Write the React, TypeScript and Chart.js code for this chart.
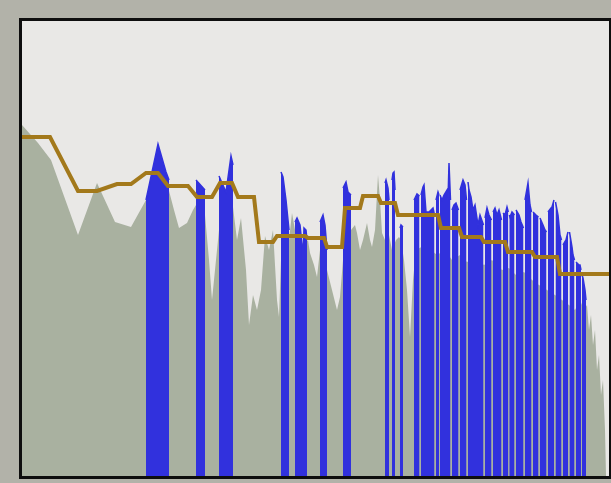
import React, { useEffect, useRef } from "react";
import { Chart, registerables } from "chart.js";

Chart.register(...registerables);

// x: sample position (0..587), y: level (0..113.75)
const grayX = [0,16,29,56,75,93,109,124,133,146,152,157,165,171,174,183,187,190,194,197,204,211,215,219,224,227,231,235,239,243,247,251,255,257,259,263,267,270,273,278,282,286,288,292,295,298,301,305,310,315,318,321,325,329,333,335,338,341,345,348,350,353,356,358,360,363,367,370,374,377,379,382,385,388,391,394,403,415,423,430,438,445,453,462,470,480,487,494,502,510,517,525,533,540,547,553,558,562,565,567,569,571,573,575,577,579,581,583,584];
const grayY = [87.75,83.25,79,60.25,73.25,63.5,62.25,69,71.5,72.25,66.5,62,63.25,66.5,67.75,65.25,54,44,54,61.5,64,67.25,59,64.5,51.5,37.75,45.25,41.5,46.5,60,56.5,61.5,44,39.75,54,56.5,59,65.75,61.5,59,57.75,59,55.75,52.75,49.75,56.5,54,51.5,46.5,41.5,44.75,54,59,61.5,62.75,60.75,56.5,59,63.25,59,57.25,61.5,75.25,69,60.75,59,60.25,56.5,59,59.75,59,54,46.5,34.75,49,56.5,57.75,55.25,56.5,54,55.25,53.5,54.5,52.75,54,51.5,52,50.25,51,49,47.75,46.5,45.25,44,42.75,41.5,44,41.5,42.75,36.5,40.25,32.75,36.5,26.5,30.25,20.25,24,11.5,0];

const blueX = [
  124,136,144,147,160,
  174,183,190,
  197,200,204,209,211,240,
  259,261,264,267,270,
  273,275,278,280,281,282,284,285,290,
  298,301,303,305,312,
  321,324,326,329,345,
  363,364,366,367,368.5,
  370,371,372,373,375,
  378,379,381,386,
  392,393,395,397.5,398.2,
  399,401,402,404,407,409,411,412.5,413.2,
  414,416,417,417.5,
  418,420,422,425,426,427,428.5,429.2,
  430,432,434,436.5,437.2,
  438,441,443,444.5,445.2,
  446,447,449,451,453,456,458,461.5,462.2,
  463,465,467,469.5,470.2,
  471,473,475,477,479.5,480.2,
  481,483,485,486.3,486.8,
  487.3,488,490,492.5,493.2,
  494,497,499,501.5,502.2,
  503,506,508,509.5,510.2,
  511,514,516.5,517.2,
  518,521,523,524.5,525.2,
  526,529,530,532,532.7,
  533.5,536,538,539.5,540.2,
  541,544,546,546.7,
  547.5,550,551,552.5,553.2,
  554,557,558,559,559.5,
  560,561,563,564,
];
const blueY = [
  69,83,76,74,null,
  74,71.5,null,
  75,73.25,71,80,77.75,null,
  76,74.75,69,61.5,null,
  63.5,64.5,62.75,57.75,54,62,61.5,59,null,
  63.5,65.25,62.75,56.5,null,
  72,73.5,71,70.25,null,
  73.25,74,72,69,null,
  74,75.75,76,71.5,null,
  62,62.75,62.25,null,
  69,69.5,70.5,70,null,
  70.25,72.25,72.75,66,66,66.5,67,65.25,null,
  69,71,70.25,null,
  70.25,69,70.25,71.5,69,78.25,69,null,
  66.5,67.75,68.25,66.5,null,
  71.5,74,72.75,69,null,
  73.5,71.5,69.75,66.5,67.75,62.75,65.25,62.75,null,
  64.5,67,65.25,64,null,
  66,67,65.25,66.5,64,null,
  65.75,65.25,67.25,66,null,
  65.25,64.75,66,65.25,null,
  66.5,65.25,63.5,62,null,
  69,73.25,67.75,66,null,
  66,65.25,64.75,null,
  64.5,62.75,61.5,61,null,
  66,67,67.25,69,null,
  68.5,65.25,60.25,59,null,
  57.75,59,61,null,
  61,57.25,55.25,54,null,
  53.5,52.75,52.75,51.5,null,
  50.25,49.5,46.5,44,
];

const goldX = [0,28,56,75,95,109,124,136,146,166,175,190,198,210,216,232,237,251,255,283,286,302,305,320,323,338,341,356,359,373,376,416,419,437,440,459,462,483,486,510,513,535,538,588];
const goldY = [84.75,84.75,71.25,71.25,73,73,75.75,75.75,72.5,72.5,69.75,69.75,73.25,73.25,69.75,69.75,58.5,58.5,60,60,59.5,59.5,57.25,57.25,67,67,70,70,68.25,68.25,65.25,65.25,62,62,59.75,59.75,58.5,58.5,56,56,54.75,54.75,50.5,50.5];

const pts = (xs: number[], ys: (number | null)[]) => xs.map((x, i) => ({ x, y: ys[i] }));

const frame = {
  id: "frame",
  beforeDraw(chart: any) {
    const { ctx, chartArea: a } = chart;
    ctx.save();
    ctx.fillStyle = "#b2b2a9";
    ctx.fillRect(0, 0, chart.width, chart.height);
    ctx.fillStyle = "#e9e8e6";
    ctx.fillRect(a.left, a.top, a.right - a.left, a.bottom - a.top);
    ctx.restore();
  },
  afterDraw(chart: any) {
    const { ctx, chartArea: a } = chart;
    ctx.save();
    ctx.strokeStyle = "#0e0e0e";
    ctx.lineWidth = 3;
    ctx.strokeRect(a.left - 1.5, a.top - 1.5, a.right - a.left + 3, a.bottom - a.top + 3);
    ctx.restore();
  },
};

export default function App() {
  const ref = useRef<HTMLCanvasElement | null>(null);
  useEffect(() => {
    if (!ref.current) return;
    const chart = new Chart(ref.current, {
      type: "line",
      data: {
        datasets: [
          {
            label: "gold",
            data: pts(goldX, goldY),
            borderColor: "#a3791b",
            borderWidth: 4,
            pointRadius: 0,
            fill: false,
            order: 0,
          },
          {
            label: "blue",
            data: pts(blueX, blueY),
            borderColor: "#3131dd",
            backgroundColor: "#3131dd",
            borderWidth: 1.5,
            pointRadius: 0,
            fill: "origin",
            spanGaps: false,
            order: 1,
          },
          {
            label: "gray",
            data: pts(grayX, grayY),
            borderColor: "rgba(0,0,0,0)",
            backgroundColor: "#a9b1a0",
            borderWidth: 0,
            pointRadius: 0,
            fill: "origin",
            order: 2,
          },
        ],
      },
      options: {
        animation: false,
        responsive: false,
        events: [],
        layout: { padding: { left: 22, top: 21, right: 2, bottom: 7 } },
        plugins: { legend: { display: false }, tooltip: { enabled: false } },
        scales: {
          x: { type: "linear", min: 0, max: 587, display: false },
          y: { min: 0, max: 113.75, display: false },
        },
      },
      plugins: [frame],
    });
    return () => chart.destroy();
  }, []);
  return (
    <div style={{ position: "absolute", left: 0, top: 0, width: 611, height: 483 }}>
      <canvas ref={ref} width={611} height={483} style={{ display: "block" }} />
    </div>
  );
}
